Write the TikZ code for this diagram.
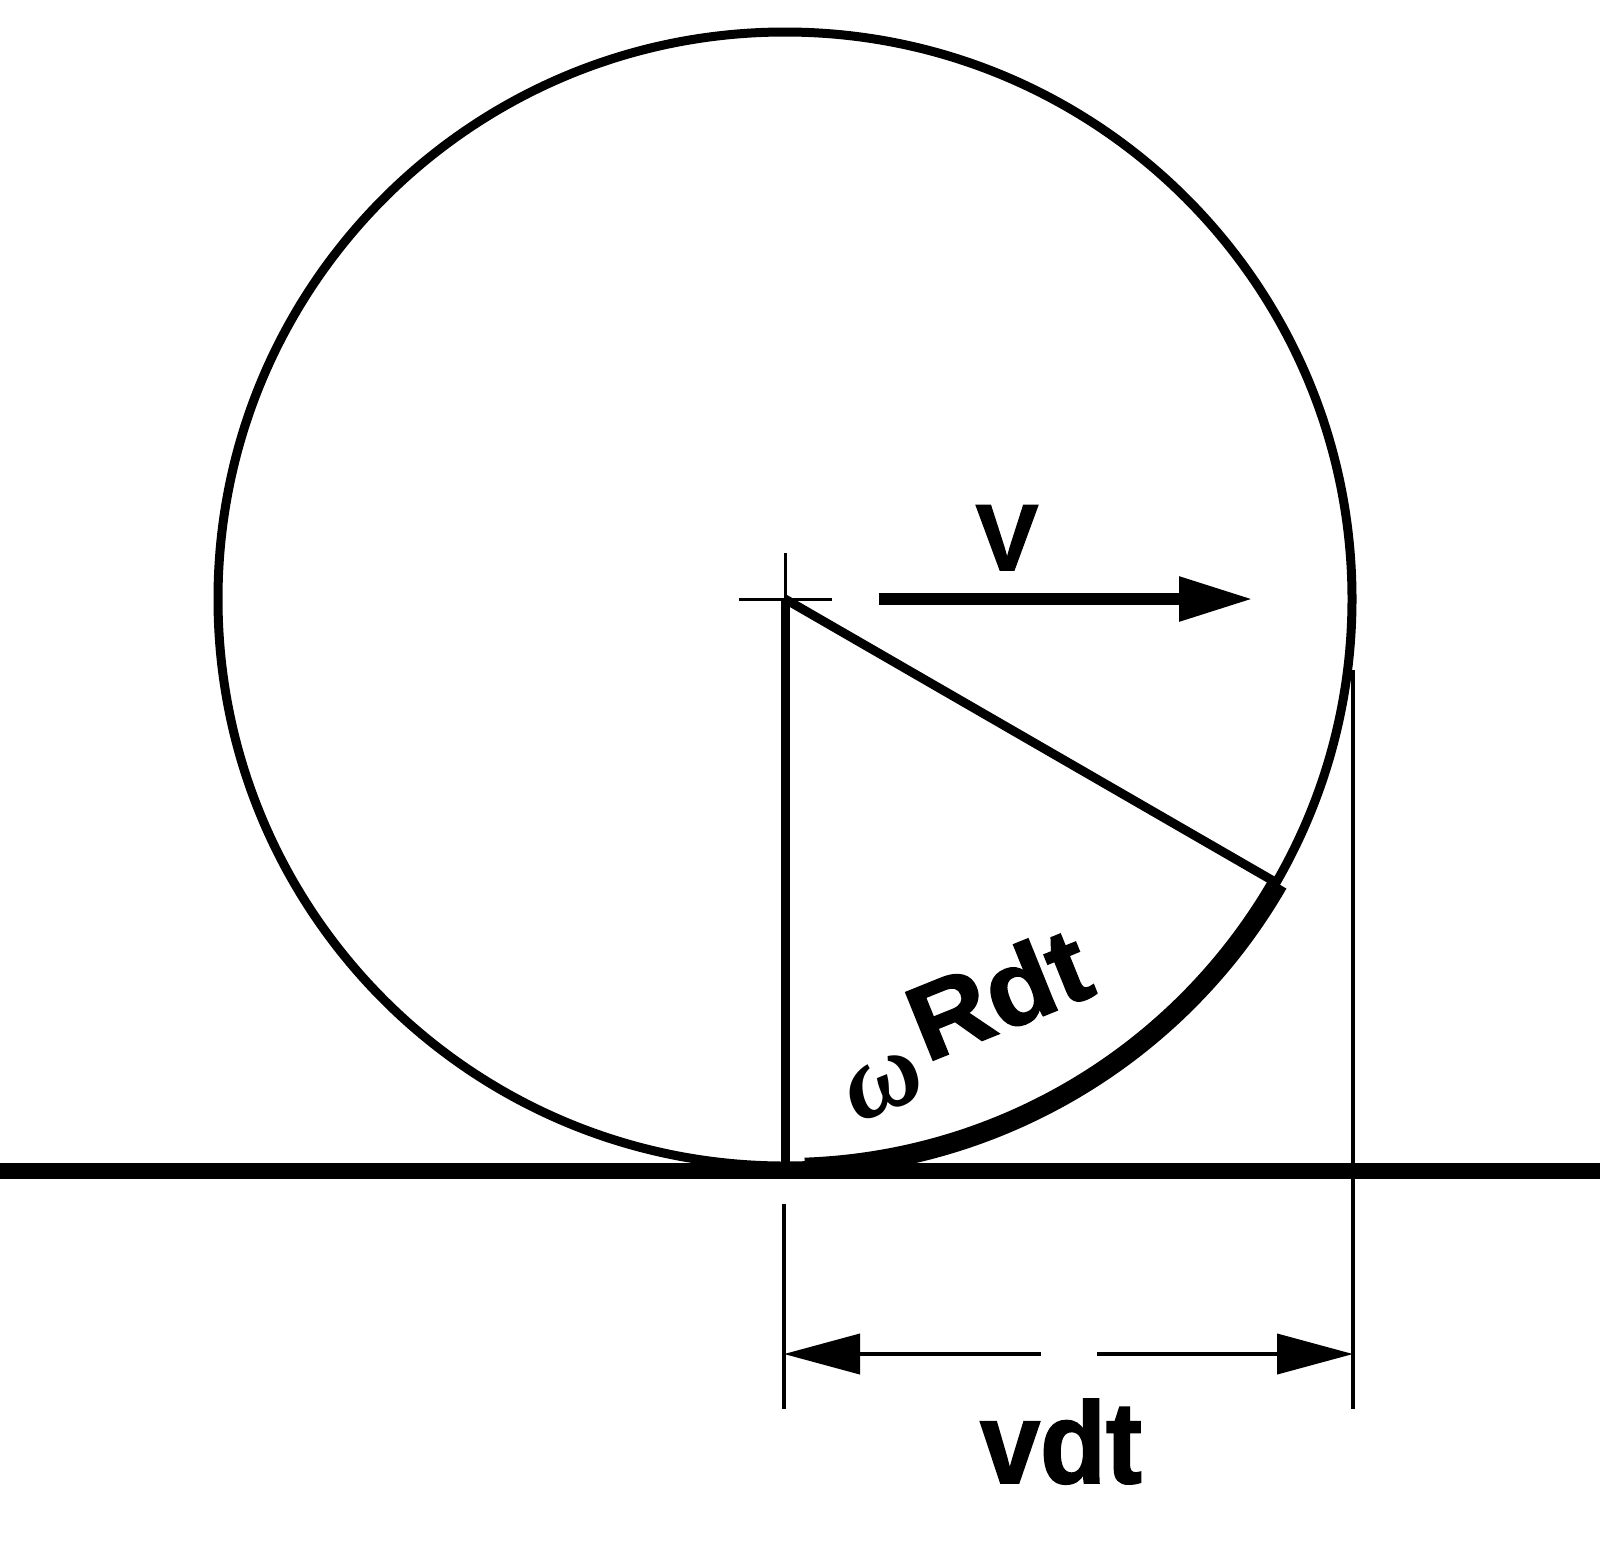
\documentclass[tikz,border=0pt]{standalone}
\usepackage{fontspec}
\setmainfont{Liberation Sans}
\newfontfamily\heavy{Liberation Sans Bold}[FakeBold=1.6]
\newfontfamily\omfont{Liberation Serif Bold Italic}
\usetikzlibrary{arrows.meta,calc}
\tikzset{
  wheel/.style={line width=4.5pt},
  radline/.style={line width=4.5pt},
  groundline/.style={line width=8pt},
  thinline/.style={line width=1.5pt},
  extline/.style={line width=2pt},
  dimline/.style={line width=2pt,-{Triangle[length=38pt,width=20pt]}},
  velarrow/.style={line width=6pt,-{Triangle[length=37pt,width=21pt]}},
  lbl/.style={inner sep=0pt},
}
\begin{document}
\begin{tikzpicture}[x=0.5pt,y=-0.5pt]
\useasboundingbox (0,0) rectangle (1600,1544);
% centre and key points
\coordinate (O) at (785,599);
\coordinate (B) at (785,1166);
\coordinate (P) at ($(O)+(30:567)$);
\coordinate (GL) at (0,1171);
\coordinate (GR) at (1600,1171);
\coordinate (CxL) at (739,599);
\coordinate (CxR) at (832,599);
\coordinate (CyT) at (785,553);
\coordinate (VS) at (879,599);
\coordinate (VE) at (1253,599);
\coordinate (ELt) at (784,1204);
\coordinate (ELb) at (784,1409);
\coordinate (ERt) at (1353,670);
\coordinate (ERb) at (1353,1409);
\coordinate (DL) at (784,1354);
\coordinate (DR) at (1353,1354);
\coordinate (GapL) at (1041,1354);
\coordinate (GapR) at (1097,1354);
% wheel
\draw[wheel] (O) circle[radius=567];
% thick arc omega R dt
\draw[line width=10pt] ($(O)+(88:569)$) arc[start angle=88,end angle=30,radius=569];
% ground
\draw[groundline] (GL) -- (GR);
% centre cross
\draw[thinline] (CxL) -- (CxR);
\draw[thinline] (CyT) -- (O);
% radii
\draw[radline] (O) -- (B);
\draw[radline] (O) -- (P);
% velocity arrow
\draw[velarrow] (VS) -- (VE);
\node[lbl,anchor=base,font=\heavy\fontsize{47}{50}\selectfont] (Vlbl) at (1007,570) {V};
% dimension
\draw[extline] (ELt) -- (ELb);
\draw[extline] (ERt) -- (ERb);
\draw[dimline] (GapL) -- (DL);
\draw[dimline] (GapR) -- (DR);
\node[lbl,anchor=base,font=\heavy\fontsize{58}{60}\selectfont] (vdt) at (1061,1483) {\scalebox{0.93}[1]{vdt}};
% omega R dt label
\node[lbl,rotate=22,font=\omfont\fontsize{54}{58}\selectfont] (om) at (884,1086) {ω};
\node[lbl,anchor=base west,rotate=22,font=\heavy\fontsize{53}{56}\selectfont] (Rdt) at (926,1063) {\scalebox{1.05}[1]{Rdt}};
\end{tikzpicture}
\end{document}
